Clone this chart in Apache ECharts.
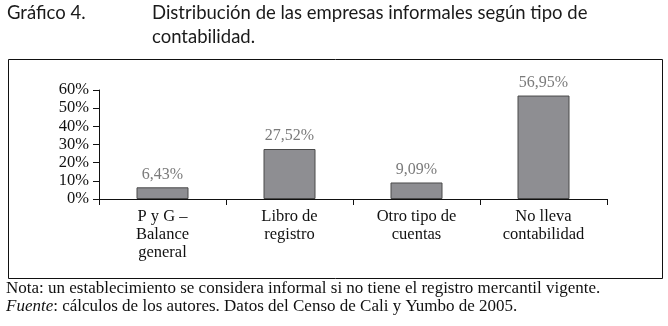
<!DOCTYPE html>
<html>
<head>
<meta charset="utf-8">
<script src="https://cdn.jsdelivr.net/npm/echarts@6/dist/echarts.min.js"></script>
<style>html,body{margin:0;padding:0;background:#fff}#c{width:668px;height:326px}</style>
</head>
<body>
<div id="c"></div>
<script>
const categories = ["P y G \u2013\nBalance\ngeneral", "Libro de\nregistro", "Otro tipo de\ncuentas", "No lleva\ncontabilidad"];
const values = [6.43, 27.52, 9.09, 56.95];
const valueLabels = ["6,43%", "27,52%", "9,09%", "56,95%"];
const yTicks = { min: 0, max: 60, interval: 10 };

const serif = '"Liberation Serif", "DejaVu Serif", serif';
const sans = 'Lato, "Noto Sans", sans-serif';

const chart = echarts.init(document.getElementById('c'), null, { renderer: 'canvas' });
chart.setOption({
  animation: false,
  backgroundColor: '#fff',
  grid: { left: 99, right: 61, top: 90, bottom: 127, containLabel: false },
  xAxis: {
    type: 'category',
    data: categories,
    axisLine: { lineStyle: { color: '#111', width: 1 } },
    axisTick: { show: true, length: 6, lineStyle: { color: '#111' } },
    axisLabel: { color: '#111', fontFamily: serif, fontSize: 16.5, lineHeight: 18, margin: 9, interval: 0 }
  },
  yAxis: {
    type: 'value',
    min: yTicks.min, max: yTicks.max, interval: yTicks.interval,
    splitLine: { show: false },
    axisLine: { show: true, lineStyle: { color: '#111', width: 1 } },
    axisTick: { show: true, length: 6, lineStyle: { color: '#111' } },
    axisLabel: { color: '#111', fontFamily: serif, fontSize: 16.5, margin: 10, formatter: '{value}%' }
  },
  series: [{
    type: 'bar',
    data: values,
    barWidth: 52,
    itemStyle: { color: '#8e8e92', borderColor: '#4a4a4a', borderWidth: 1 },
    label: {
      show: true, position: 'top', distance: 5,
      color: '#7a7a7a', fontFamily: serif, fontSize: 16,
      formatter: p => valueLabels[p.dataIndex]
    }
  }],
  graphic: [
    { type: 'rect', shape: { x: 8.5, y: 59.5, width: 654, height: 219 }, style: { fill: 'none', stroke: '#111', lineWidth: 1 }, z: -1 },
    { type: 'text', x: 7, y: 4, style: { text: 'Gráfico 4.', font: '18.5px ' + sans, fill: '#1a1a1a', textVerticalAlign: 'top' } },
    { type: 'text', x: 152, y: 4, style: { text: 'Distribución de las empresas informales según tipo de', font: '18.5px ' + sans, fill: '#1a1a1a', textVerticalAlign: 'top' } },
    { type: 'text', x: 152, y: 28, style: { text: 'contabilidad.', font: '18.5px ' + sans, fill: '#1a1a1a', textVerticalAlign: 'top' } },
    { type: 'text', x: 6, y: 280, style: { text: 'Nota: un establecimiento se considera informal si no tiene el registro mercantil vigente.', font: '17px ' + serif, fill: '#111', textVerticalAlign: 'top' } },
    { type: 'text', x: 6, y: 298, style: { text: '{i|Fuente}: cálculos de los autores. Datos del Censo de Cali y Yumbo de 2005.', font: '17px ' + serif, fill: '#111', textVerticalAlign: 'top', rich: { i: { fontStyle: 'italic', fontFamily: serif, fontSize: 17, fill: '#111' } } } }
  ]
});
</script>
</body>
</html>
